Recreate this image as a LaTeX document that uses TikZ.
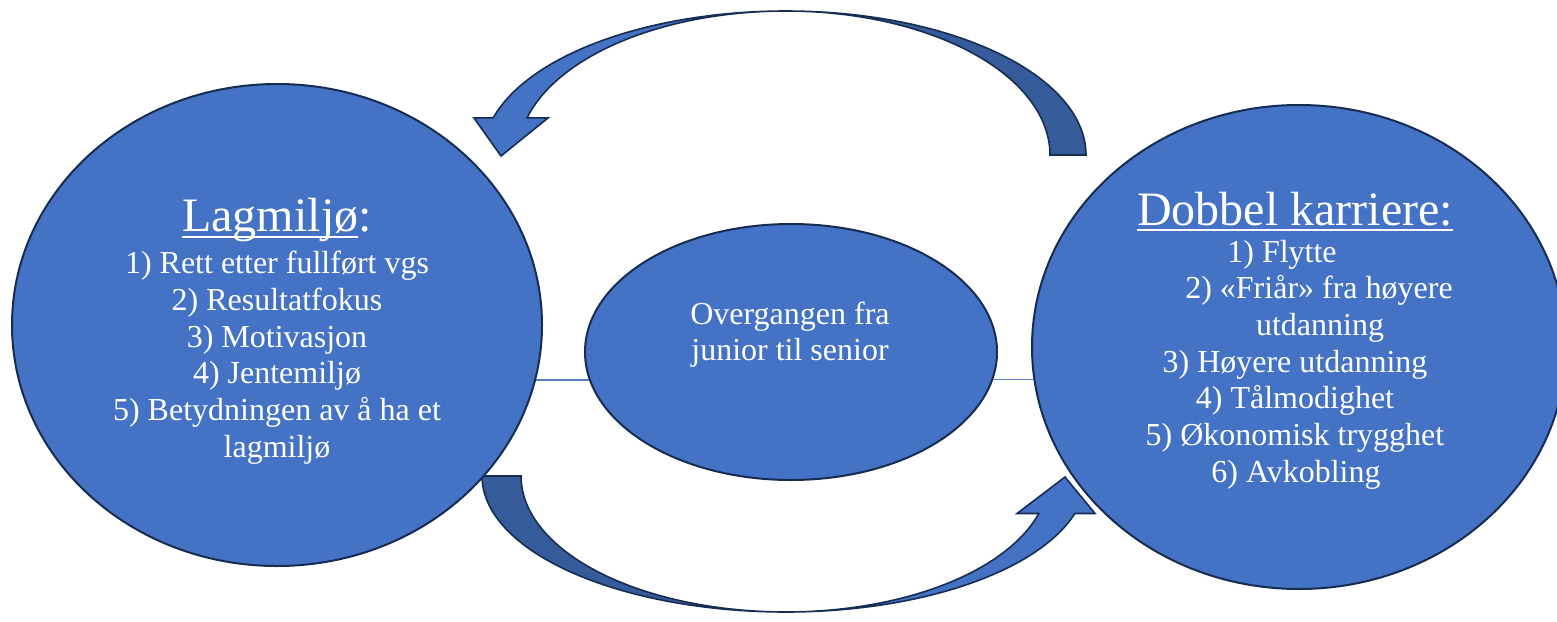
\documentclass[tikz,border=0pt]{standalone}
\usepackage{fontspec}
\setmainfont{Liberation Serif}
\usetikzlibrary{shapes.geometric}
\definecolor{fillblue}{HTML}{4472C4}
\definecolor{darkband}{HTML}{365B9B}
\definecolor{edgenavy}{HTML}{172C51}
\definecolor{connblue}{HTML}{5B82C8}
\newcommand\ulbar[2]{\setbox0\hbox{#2}\rlap{\rule[-#1]{\wd0}{1pt}}\box0}
\begin{document}
\begin{tikzpicture}[x=0.5pt,y=-0.5pt,
  bubble/.style={ellipse, draw=edgenavy, fill=fillblue, line width=1pt, inner sep=0pt},
  bandlight/.style={draw=edgenavy, fill=fillblue, line width=0.8pt, line join=miter},
  banddark/.style={draw=edgenavy, fill=darkband, line width=0.8pt, line join=miter},
  bodytext/.style={text=white, font=\fontsize{16}{19}\selectfont, anchor=base, inner sep=0pt},
  titletext/.style={text=white, font=\fontsize{24}{28}\selectfont, anchor=base, inner sep=0pt},
  connector/.style={draw=connblue, line width=0.6pt}
]
\useasboundingbox (0,0) rectangle (1557,621);

% top curved arrow (right to left)
\path[banddark] plot[domain=0:90, samples=60] ({786+300*cos(\x)}, {155-144*sin(\x)})
  -- plot[domain=90:0, samples=60] ({786+264*cos(\x)}, {155-144*sin(\x)}) -- cycle;
\path[bandlight] plot[domain=90:165, samples=60] ({786+303*cos(\x)}, {155-144*sin(\x)})
  -- (474,118) -- (501,156) -- (548,118)
  -- plot[domain=165:90, samples=60] ({786+268*cos(\x)}, {155-144*sin(\x)}) -- cycle;

% bottom curved arrow (left to right)
\path[banddark] plot[domain=180:90, samples=60] ({786+304*cos(\x)}, {476+136*sin(\x)})
  -- plot[domain=90:180, samples=60] ({786+265*cos(\x)}, {476+136*sin(\x)}) -- cycle;
\path[bandlight] plot[domain=90:16, samples=60] ({786+300.5*cos(\x)}, {476+136*sin(\x)})
  -- (1095,513.5) -- (1065,477) -- (1017,513.5)
  -- plot[domain=16:90, samples=60] ({786+263*cos(\x)}, {476+136*sin(\x)}) -- cycle;

% ellipses
\node[bubble, minimum width=265pt, minimum height=241pt] (L) at (277,325) {};
\node[bubble, minimum width=206pt, minimum height=128pt] (C) at (791,352) {};
\node[bubble, minimum width=267pt, minimum height=242pt] (R) at (1299,347) {};

% connectors (horizontal)
\draw[connector] (L.-12.2) -- (L.-12.2 -| C.188.2);
\draw[connector] (R.187.4 -| C.-8.2) -- (R.187.4);

% left text
\node[titletext] (Lt) at (277,231) {\ulbar{3.5pt}{Lagmiljø}:};
\node[bodytext] (L1) at (277,273) {1) Rett etter fullført vgs};
\node[bodytext] (L2) at (277,310) {2) Resultatfokus};
\node[bodytext] (L3) at (277,347) {3) Motivasjon};
\node[bodytext] (L4) at (277,383) {4) Jentemiljø};
\node[bodytext] (L5) at (277,420) {5) Betydningen av å ha et};
\node[bodytext] (L6) at (277,457) {lagmiljø};

% center text
\node[bodytext] (C1) at (790,324) {Overgangen fra};
\node[bodytext] (C2) at (790,360) {junior til senior};

% right text
\node[titletext] (Rt) at (1295,225) {\ulbar{3pt}{Dobbel karriere:}};
\node[bodytext] (R1) at (1282,262) {1) Flytte};
\node[bodytext] (R2) at (1319,298) {2) «Friår» fra høyere};
\node[bodytext] (R3) at (1320,335) {utdanning};
\node[bodytext] (R4) at (1295,372) {3) Høyere utdanning};
\node[bodytext] (R5) at (1295,408) {4) Tålmodighet};
\node[bodytext] (R6) at (1295,445) {5) Økonomisk trygghet};
\node[bodytext] (R7) at (1296,482) {6) Avkobling};
\end{tikzpicture}
\end{document}
